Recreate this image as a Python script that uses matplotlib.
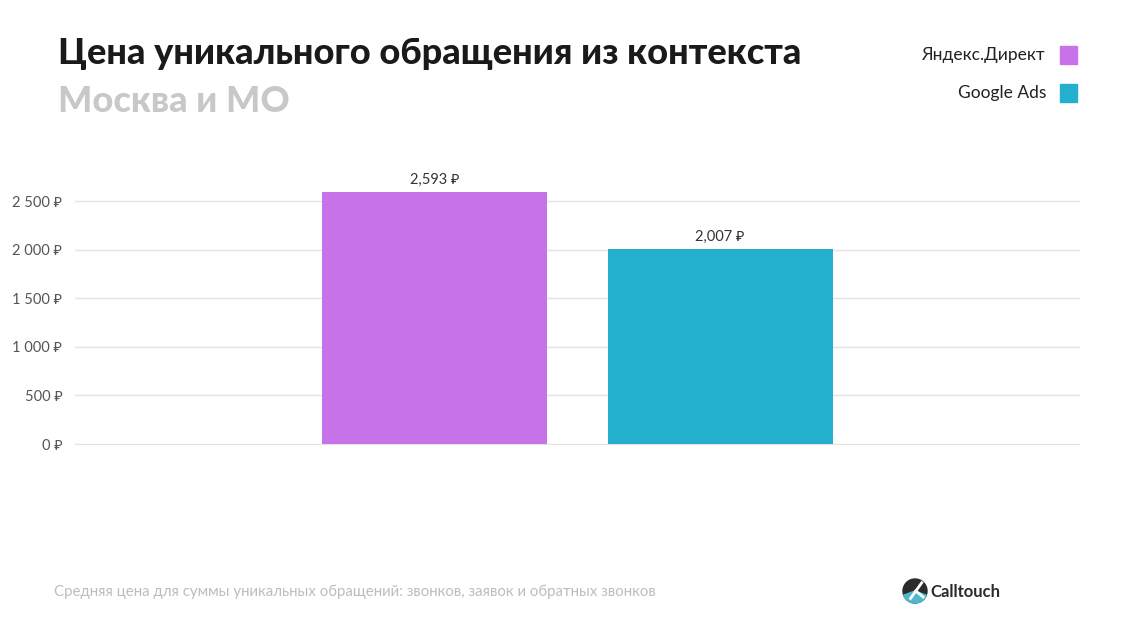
import matplotlib.pyplot as plt
from matplotlib.patches import Circle, Wedge, Rectangle

plt.rcParams['font.family'] = ['Lato', 'Noto Sans', 'DejaVu Sans']

# data
series = ['Яндекс.Директ', 'Google Ads']
values = [2593, 2007]
colors = ['#C872EA', '#22B0CE']
yticks = [0, 500, 1000, 1500, 2000, 2500]

W, H = 1140, 641
fig = plt.figure(figsize=(W / 100, H / 100), dpi=100)
fig.patch.set_facecolor('white')

# axes: 0 at y=444px, 2500 at y=201px
ymax = 2700
px_per = (444 - 201) / 2500
top_px = 444 - ymax * px_per
ax = fig.add_axes([75 / W, (H - 445) / H, (1080 - 75) / W, (445 - top_px) / H])

offsets = [-0.142, 0.142]
width = 0.224
for name, v, c, off in zip(series, values, colors, offsets):
    ax.bar(off, v, width=width, color=c, zorder=3)
    ax.text(off, v + 55, f'{v:,} ₽', ha='center', va='bottom', fontsize=10.5, color='#333333')

ax.set_xlim(-0.5, 0.5)
ax.set_ylim(-10, ymax)
ax.set_yticks(yticks)
ax.set_yticklabels([f'{t:,}'.replace(',', ' ') + ' ₽' for t in yticks], fontsize=10.5, color='#555555')
ax.set_xticks([])
ax.grid(axis='y', color='#E3E3E3', linewidth=1, zorder=0)
for s in ax.spines.values():
    s.set_visible(False)
ax.tick_params(axis='y', length=0, pad=9)
ax.set_facecolor('none')

# titles
fig.text(58 / W, 1 - 54 / H, 'Цена уникального обращения из контекста', fontsize=26,
         fontweight='black', color='#1A1A1A', va='center', ha='left')
fig.text(58 / W, 1 - 102 / H, 'Москва и МО', fontsize=26, fontweight='black',
         color='#C8C8C8', va='center', ha='left')

# legend
for i, (name, c) in enumerate(zip(series, colors)):
    yc = 55 + i * 38
    fig.text(1046 / W, 1 - yc / H, name, fontsize=12.5, color='#222222', ha='right', va='center')
    fig.patches.append(Rectangle((1060 / W, 1 - (yc + 9) / H), 17 / W, 18 / H,
                                 transform=fig.transFigure, color=c, figure=fig))

# footnote
fig.text(54 / W, 1 - 592 / H, 'Средняя цена для суммы уникальных обращений: звонков, заявок и обратных звонков',
         fontsize=10.8, color='#BDBDBD', ha='left', va='center')

# logo
lax = fig.add_axes([900 / W, 1 - 606 / H, 30 / W, 30 / H])
lax.set_xlim(-1, 1)
lax.set_ylim(-1, 1)
lax.set_aspect('equal')
lax.axis('off')
lax.add_patch(Circle((0, 0), 0.8, color='#2B2B2B'))
lax.add_patch(Wedge((0, 0), 0.8, 200, 340, color='#4FB9C9'))
lax.plot([-0.3, 0.45], [-0.5, 0.55], color='white', lw=2)
lax.plot([0.05, 0.55], [0.0, -0.4], color='white', lw=2)
fig.text(930 / W, 1 - 592 / H, 'Calltouch', fontsize=12, fontweight='bold', color='#2B2B2B',
         ha='left', va='center')

fig.savefig('out.png', dpi=100)
